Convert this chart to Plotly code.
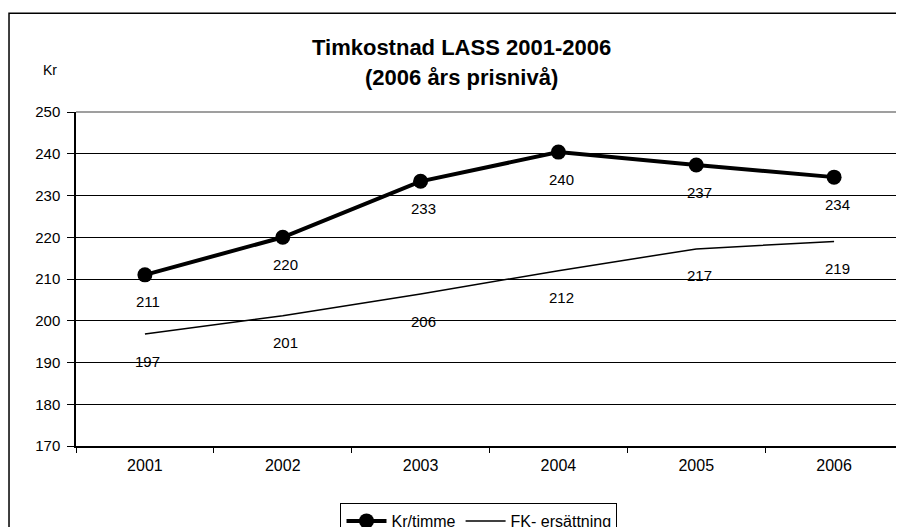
import plotly.graph_objects as go

years = ["2001", "2002", "2003", "2004", "2005", "2006"]
kr_timme = [211.0, 220.0, 233.4, 240.4, 237.3, 234.4]
fk_ersattning = [196.8, 201.2, 206.4, 212.0, 217.2, 219.0]
y_ticks = [170, 180, 190, 200, 210, 220, 230, 240, 250]

FONT = "Liberation Sans, Arial, sans-serif"

fig = go.Figure()
fig.add_trace(go.Scatter(
    x=years, y=kr_timme, name="Kr/timme", mode="lines+markers",
    line=dict(color="black", width=4), marker=dict(color="black", size=15),
))
fig.add_trace(go.Scatter(
    x=years, y=fk_ersattning, name="FK- ersättning", mode="lines",
    line=dict(color="black", width=1.5),
))

annotations = []
for series in (kr_timme, fk_ersattning):
    for i, v in enumerate(series):
        annotations.append(dict(
            x=i, y=v, xref="x", yref="y", text=str(round(v)), showarrow=False,
            yshift=-27, xshift=3, font=dict(family=FONT, size=15, color="black"),
        ))
annotations.append(dict(
    x=-0.0314, y=1.126, xref="paper", yref="paper", text="Kr", showarrow=False,
    xanchor="center", yanchor="middle", font=dict(family=FONT, size=14, color="black"),
))
annotations.append(dict(
    x=0.4667, y=1.1946, xref="paper", yref="paper",
    text="<b>Timkostnad LASS 2001-2006</b>",
    showarrow=False, xanchor="center", yanchor="middle",
    font=dict(family=FONT, size=22, color="black"),
))
annotations.append(dict(
    x=0.4667, y=1.1018, xref="paper", yref="paper",
    text="<b>(2006 års prisnivå)</b>",
    showarrow=False, xanchor="center", yanchor="middle",
    font=dict(family=FONT, size=22, color="black"),
))

# page body adds an 8px offset, so margins are compensated by 8px
fig.update_layout(
    width=904, height=527,
    margin=dict(l=68, r=9, t=104, b=89, autoexpand=False),
    paper_bgcolor="white", plot_bgcolor="white",
    font=dict(family=FONT, size=15, color="black"),
    showlegend=True,
    legend=dict(
        orientation="h", x=0.4873, xanchor="center", y=-0.1707, yanchor="top",
        bordercolor="black", borderwidth=1, bgcolor="white",
        font=dict(family=FONT, size=16, color="black"),
        itemwidth=40, tracegroupgap=0,
    ),
    annotations=annotations,
    shapes=[
        dict(type="rect", xref="paper", yref="paper", x0=-0.081, x1=1.01, y0=-0.26, y1=1.296,
             line=dict(color="black", width=1.5), layer="below"),
        dict(type="path", xref="paper", yref="paper", path="M 0,1 L 1,1 L 1,0",
             line=dict(color="#808080", width=1.5), layer="above"),
    ],
    xaxis=dict(
        type="category", categoryorder="array", categoryarray=years,
        range=[-0.5, len(years) - 0.5], automargin=False,
        showline=True, linecolor="black", linewidth=1.5,
        ticks="outside", ticklen=5, tickcolor="black", tickson="boundaries",
        showgrid=False, tickfont=dict(family=FONT, size=16, color="black"),
        ticklabelstandoff=4, fixedrange=True,
    ),
    yaxis=dict(
        range=[170, 250], tickvals=y_ticks, automargin=False,
        showline=True, linecolor="black", linewidth=1.5,
        ticks="outside", ticklen=7, tickcolor="black",
        showgrid=True, gridcolor="black", gridwidth=1,
        zeroline=False, tickfont=dict(family=FONT, size=15, color="black"),
        ticklabelstandoff=4, fixedrange=True,
    ),
)

fig.write_html("out.html", config={"displayModeBar": False})
